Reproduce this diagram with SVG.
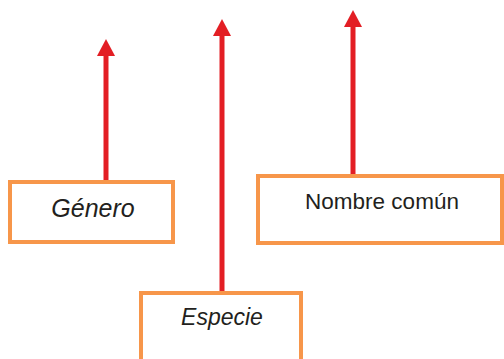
<svg xmlns="http://www.w3.org/2000/svg" width="504" height="359" viewBox="0 0 504 359">
  <defs>
    <marker id="arrow" viewBox="0 0 17 18" refX="1" refY="9" markerWidth="17" markerHeight="18" markerUnits="userSpaceOnUse" orient="auto">
      <path d="M0,0 L17,9 L0,18 Z" fill="#E31E24"/>
    </marker>
  </defs>
  <style>
    .box { fill: #FFFFFF; stroke: #F7964A; stroke-width: 4; }
    .conn { stroke: #E31E24; stroke-width: 5; fill: none; marker-end: url(#arrow); }
    .lbl { font-family: "Liberation Sans", Arial, sans-serif; fill: #231F20; text-anchor: middle; }
    .it { font-style: italic; }
  </style>
  <rect width="504" height="359" fill="#FFFFFF"/>
  <g id="connectors">
    <line class="conn" x1="106" y1="181" x2="106" y2="55"/>
    <line class="conn" x1="222" y1="292" x2="222" y2="35"/>
    <line class="conn" x1="353" y1="175" x2="353" y2="26"/>
  </g>
  <g id="genero">
    <rect class="box" x="10" y="182" width="163" height="60"/>
    <text class="lbl it" x="93" y="217" font-size="25">Género</text>
  </g>
  <g id="nombre-comun">
    <rect class="box" x="258" y="176" width="244" height="67"/>
    <text class="lbl" x="382" y="209" font-size="22.5">Nombre común</text>
  </g>
  <g id="especie">
    <rect class="box" x="141" y="293" width="160" height="70"/>
    <text class="lbl it" x="222" y="325" font-size="23">Especie</text>
  </g>
</svg>
